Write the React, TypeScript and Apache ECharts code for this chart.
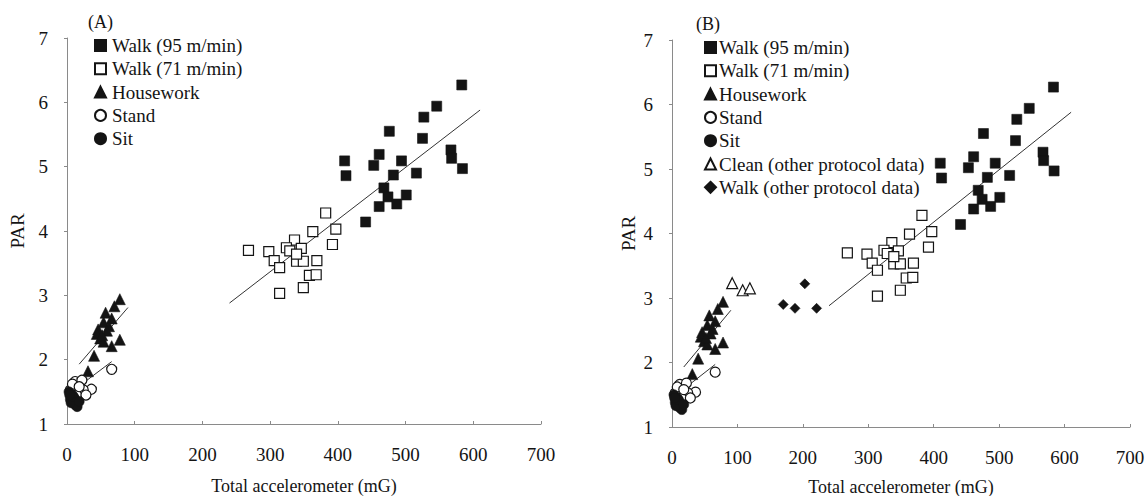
import React, { useEffect, useRef } from "react";
import * as echarts from "echarts";

// Walk (95 m/min): [total accelerometer mG, PAR]
const walk95: number[][] = [
  [583, 6.27], [546, 5.94], [527, 5.77], [476, 5.55], [525, 5.44],
  [410, 5.09], [461, 5.19], [453, 5.02], [494, 5.09], [412, 4.86],
  [482, 4.87], [516, 4.9], [567, 5.26], [568, 5.13], [584, 4.97],
  [468, 4.67], [474, 4.53], [461, 4.38], [487, 4.42], [501, 4.56],
  [441, 4.14],
];

// Walk (71 m/min)
const walk71: number[][] = [
  [382, 4.28], [363, 3.99], [397, 4.03], [392, 3.79], [336, 3.86],
  [324, 3.74], [346, 3.73], [268, 3.7], [298, 3.68], [306, 3.54],
  [314, 3.43], [339, 3.53], [349, 3.53], [369, 3.54], [358, 3.31],
  [368, 3.32], [349, 3.12], [314, 3.03], [329, 3.69], [339, 3.64],
];

// Housework
const housework: number[][] = [
  [78, 2.94], [70, 2.83], [57, 2.73], [66, 2.64], [54, 2.58],
  [62, 2.52], [46, 2.47], [59, 2.45], [44, 2.4], [49, 2.33],
  [78, 2.31], [66, 2.21], [54, 2.28], [40, 2.06], [31, 1.82], [52, 2.38],
];

// Stand
const stand: number[][] = [
  [66, 1.85], [12, 1.66], [22, 1.68], [36, 1.54], [24, 1.53],
  [5, 1.53], [14, 1.45], [28, 1.45], [8, 1.62], [18, 1.58], [10, 1.4],
];

// Sit
const sit: number[][] = [
  [3, 1.5], [5, 1.38], [8, 1.45], [12, 1.3], [15, 1.27],
  [6, 1.33], [10, 1.42], [4, 1.45], [18, 1.35],
];

// Other protocol data (panel B only)
const cleanOther: number[][] = [[92, 3.23], [108, 3.12], [119, 3.15]];
const walkOther: number[][] = [[170, 2.9], [188, 2.84], [203, 3.22], [221, 2.84]];

// Regression line end points
const fitWalk: number[][] = [[240, 2.88], [610, 5.88]];
const fitHousework: number[][] = [[18, 1.93], [90, 2.81]];
const fitStandSit: number[][] = [[3, 1.47], [66, 1.97]];

const xTicks = [0, 700, 100];
const yTicks = [1, 7, 1];

const FONT = "'Liberation Serif', 'Times New Roman', Times, serif";
const INK = "#141414";
const FS = 19;

const namesA = ["Walk (95 m/min)", "Walk (71 m/min)", "Housework", "Stand", "Sit"];
const namesB = [...namesA, "Clean (other protocol data)", "Walk (other protocol data)"];

function scatter(name: string, data: number[][], idx: number, symbol: string, size: number, filled: boolean) {
  return {
    type: "scatter",
    name,
    xAxisIndex: idx,
    yAxisIndex: idx,
    data,
    symbol,
    symbolSize: size,
    itemStyle: filled
      ? { color: INK, borderColor: INK, borderWidth: 0.6, opacity: 1 }
      : { color: "#ffffff", borderColor: INK, borderWidth: 1.2, opacity: 1 },
    z: 3,
  };
}

function fit(data: number[][], idx: number) {
  return {
    type: "line",
    xAxisIndex: idx,
    yAxisIndex: idx,
    data,
    symbol: "none",
    lineStyle: { color: "#333", width: 1 },
    z: 2,
  };
}

function panelSeries(idx: number) {
  return [
    fit(fitWalk, idx),
    fit(fitHousework, idx),
    fit(fitStandSit, idx),
    scatter(namesA[0], walk95, idx, "rect", 10, true),
    scatter(namesA[1], walk71, idx, "rect", 10, false),
    scatter(namesA[2], housework, idx, "triangle", 11, true),
    scatter(namesA[3], stand, idx, "circle", 10, false),
    scatter(namesA[4], sit, idx, "circle", 10, true),
  ];
}

function xAxis(idx: number, gap: number) {
  return {
    type: "value",
    gridIndex: idx,
    min: xTicks[0],
    max: xTicks[1],
    interval: xTicks[2],
    name: "Total accelerometer (mG)",
    nameLocation: "middle",
    nameGap: gap,
    nameTextStyle: { fontFamily: FONT, fontSize: 18, color: INK },
    axisLine: { lineStyle: { color: "#8a8a8a", width: 1 } },
    axisTick: { inside: true, length: 3, lineStyle: { color: "#8a8a8a" } },
    axisLabel: { fontFamily: FONT, fontSize: FS, color: INK, margin: 21 },
    splitLine: { show: false },
  };
}

function yAxis(idx: number, gap: number) {
  return {
    type: "value",
    gridIndex: idx,
    min: yTicks[0],
    max: yTicks[1],
    interval: yTicks[2],
    name: "PAR",
    nameLocation: "middle",
    nameGap: gap,
    nameTextStyle: { fontFamily: FONT, fontSize: FS, color: INK },
    axisLine: { show: true, lineStyle: { color: "#8a8a8a", width: 1 } },
    axisTick: { show: true, length: 3, lineStyle: { color: "#8a8a8a" } },
    axisLabel: { fontFamily: FONT, fontSize: FS, color: INK, margin: 19 },
    splitLine: { show: false },
  };
}

function legend(left: number, top: number, data: string[], textGap: number) {
  return {
    orient: "vertical",
    left,
    top,
    data,
    itemWidth: 11,
    itemHeight: 11,
    itemGap: 4.3,
    selectedMode: false,
    textStyle: { fontFamily: FONT, fontSize: FS, color: INK, padding: [0, 0, 0, textGap], lineHeight: 19 },
  };
}

export default function App() {
  const ref = useRef<HTMLDivElement>(null);

  useEffect(() => {
    if (!ref.current) return;
    const chart = echarts.init(ref.current, undefined, { renderer: "svg" });
    const seriesB = panelSeries(1);
    seriesB.push(scatter(namesB[5], cleanOther, 1, "triangle", 11, false));
    seriesB.push(scatter(namesB[6], walkOther, 1, "diamond", 10, true));

    chart.setOption({
      animation: false,
      backgroundColor: "#ffffff",
      textStyle: { fontFamily: FONT },
      grid: [
        { left: 67, top: 38, width: 474, height: 386, outerBoundsMode: "none", containLabel: false },
        { left: 672, top: 40, width: 458, height: 387, outerBoundsMode: "none", containLabel: false },
      ],
      xAxis: [xAxis(0, 53), xAxis(1, 51)],
      yAxis: [yAxis(0, 40), yAxis(1, 34)],
      legend: [legend(89, 31, namesA, 1), legend(699, 33, namesB, -2)],
      graphic: [
        { type: "text", left: 88, top: 13, style: { text: "(A)", fontFamily: FONT, fontSize: 18, fill: INK } },
        { type: "text", left: 696, top: 15, style: { text: "(B)", fontFamily: FONT, fontSize: 18, fill: INK } },
      ],
      series: [...panelSeries(0), ...seriesB],
    });
    return () => chart.dispose();
  }, []);

  return (
    <div
      ref={ref}
      style={{ position: "absolute", left: 0, top: 0, width: 1147, height: 496, background: "#fff" }}
    />
  );
}
